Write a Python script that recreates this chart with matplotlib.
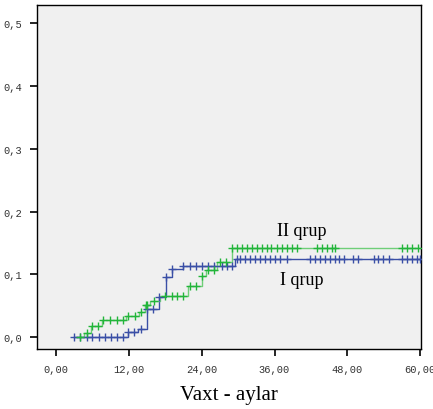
import numpy as np
import matplotlib.pyplot as plt

# cumulative incidence steps (time, level after step)
g1_t = [3.0, 11.9, 13.5, 15.0, 17.0, 18.1, 19.1, 21.0, 29.5]
g1_y = [0.0, 0.0075, 0.013, 0.045, 0.064, 0.095, 0.108, 0.1135, 0.124]
g1_cens = [3.0, 4.0, 5.1, 6.0, 7.1, 8.1, 9.1, 10.0, 11.0, 11.9, 12.9, 14.1, 15.0, 16.0,
           17.0, 18.1, 19.1, 21.0, 22.1, 23.1, 24.0, 25.1, 26.0, 27.3, 28.1, 29.0,
           29.8, 30.3, 31.2, 32.0, 32.8, 33.6, 34.4, 35.3, 36.1, 36.9, 38.0,
           41.9, 42.7, 43.5, 44.3, 45.1, 45.9, 46.7, 47.4, 49.0, 49.8,
           52.3, 53.1, 53.9, 54.8, 57.0, 57.8, 58.6, 59.5, 60.0]

g2_t = [4.0, 4.7, 5.8, 7.6, 11.5, 13.7, 14.6, 15.5, 17.2, 21.8, 24.0, 24.7, 26.6, 29.0]
g2_y = [0.0, 0.007, 0.018, 0.027, 0.034, 0.040, 0.051, 0.058, 0.065, 0.081, 0.098,
        0.107, 0.119, 0.142]
g2_cens = [4.0, 5.1, 5.9, 7.0, 7.8, 8.9, 10.0, 11.1, 11.9, 13.0, 14.1, 14.9, 15.0, 16.2,
           18.0, 19.1, 20.0, 21.0, 22.1, 23.1, 24.0, 25.1, 26.0, 27.0, 28.0,
           29.0, 29.8, 30.6, 31.4, 32.3, 33.1, 33.9, 34.7, 35.5, 36.4, 37.2, 38.0, 38.8, 39.7,
           43.0, 43.8, 44.6, 45.4, 46.0, 57.0, 57.8, 58.6, 59.7]

xticks = [0, 12, 24, 36, 48, 60]
yticks = [0.0, 0.1, 0.2, 0.3, 0.4, 0.5]

blue = '#3a4fa6'
green = '#22b53a'

fig = plt.figure(figsize=(4.33, 4.10), dpi=100)
ax = fig.add_axes([0.0855, 0.1463, 0.8865, 0.8391])
ax.set_facecolor('#f0f0f0')


def level_at(t, y, c):
    idx = np.searchsorted(t, c, side='right') - 1
    return np.array(y)[np.clip(idx, 0, len(y) - 1)]


for t, y, cens, col, lc in [(g1_t, g1_y, g1_cens, blue, blue),
                            (g2_t, g2_y, g2_cens, green, '#6fce78')]:
    tt = list(t) + [60.0]
    yy = list(y) + [y[-1]]
    ax.step(tt, yy, where='post', color=lc, lw=1.0, zorder=2)
    ax.plot(cens, level_at(t, y, cens), '+', color=col, ms=5.5, mew=1.0, zorder=3)

ax.text(40.5, 0.170, 'II qrup', ha='center', va='center', fontsize=13,
        family='Liberation Serif')
ax.text(40.5, 0.092, 'I qrup', ha='center', va='center', fontsize=13,
        family='Liberation Serif')

ax.set_xlim(-3.1, 60.1)
ax.set_ylim(-0.019, 0.529)
ax.set_xticks(xticks)
ax.set_xticklabels(['{:.2f}'.format(v).replace('.', ',') for v in xticks],
                   family='Liberation Mono', fontsize=7.5, color='#333333')
ax.set_yticks(yticks)
ax.set_yticklabels(['{:.1f}'.format(v).replace('.', ',') for v in yticks],
                   family='Liberation Mono', fontsize=7.5, color='#333333')
ax.tick_params(direction='out', length=5, width=1.2, pad=6, top=False, right=False)
for s in ax.spines.values():
    s.set_linewidth(1.0)
ax.set_xlabel('Vaxt - aylar', family='Liberation Serif', fontsize=15, labelpad=8)

fig.savefig('out.png', dpi=100)
